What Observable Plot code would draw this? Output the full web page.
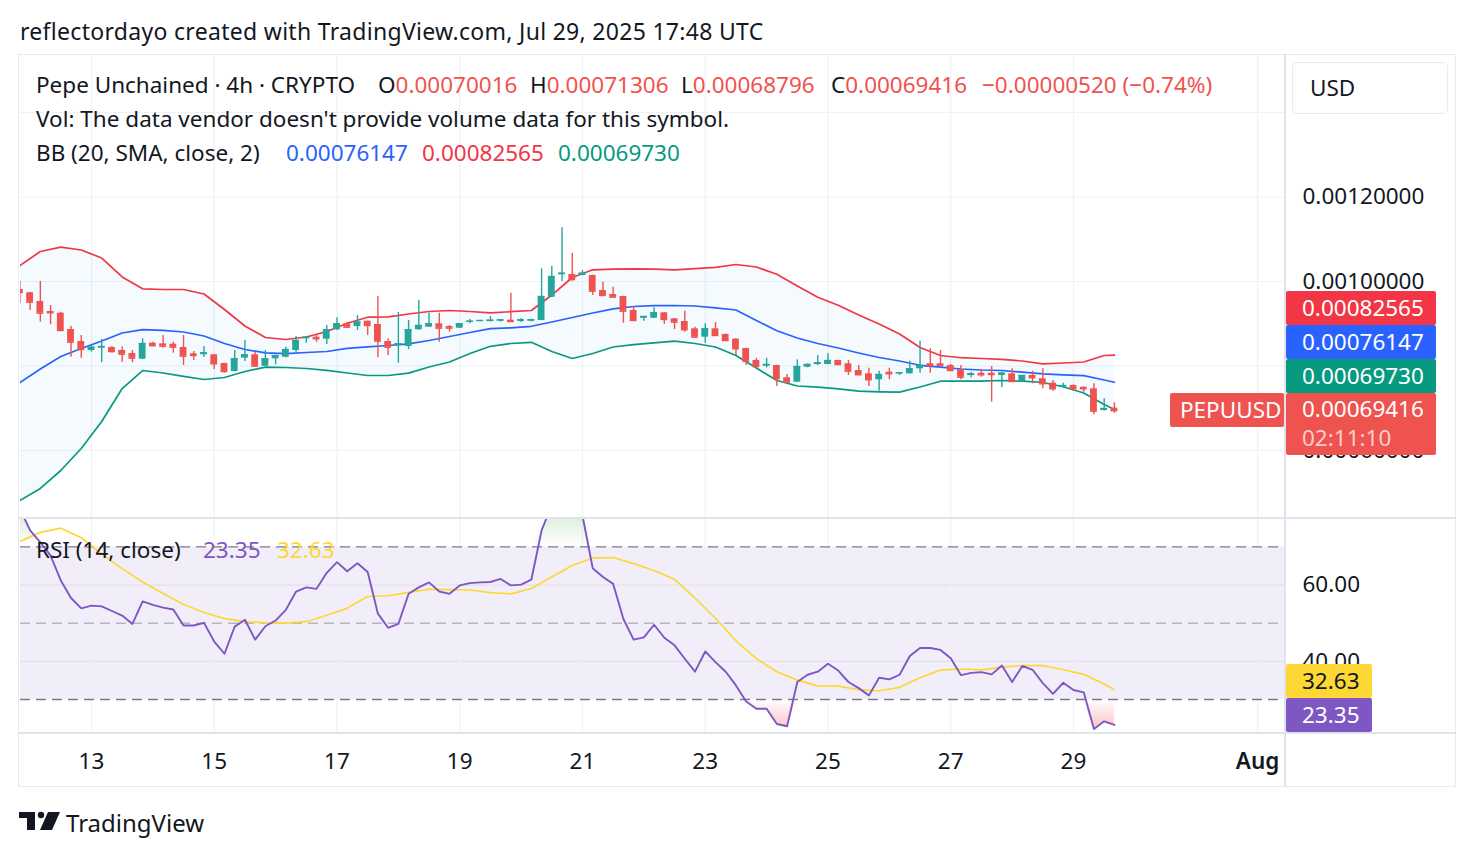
<!DOCTYPE html>
<html>
<head>
<meta charset="utf-8">
<script src="https://cdn.jsdelivr.net/npm/d3@7"></script>
<script src="https://cdn.jsdelivr.net/npm/@observablehq/plot@0.6"></script>
<style>
  html, body { margin: 0; padding: 0; background: #ffffff; }
  #page { position: relative; width: 1476px; height: 858px; overflow: hidden;
          font-family: "Noto Sans", sans-serif; color: #131722; }
  .t { position: absolute; white-space: pre; line-height: 34px; font-size: 22.5px; }
  .box { position: absolute; color: #ffffff; font-size: 22.5px; line-height: 34px;
         padding-left: 16px; box-sizing: border-box; border-radius: 2px; white-space: pre; }
  .rule { position: absolute; background: #e0e3eb; }
</style>
</head>
<body>
<div id="page"></div>
<script>
// ---------------- PEPUUSD, 4h bars ----------------
const symbolName = "Pepe Unchained · 4h · CRYPTO";
const tickerName = "PEPUUSD";
const firstBar = Date.UTC(2025, 6, 11, 20);   // open time of the first bar
const barMs = 4 * 3600 * 1000;

const opens = [
  0.0009811, 0.0009733, 0.0009527, 0.0009290, 0.0009250, 0.0008864, 0.0008580, 0.0008367, 0.0008421, 0.0008438,
  0.0008367, 0.0008296, 0.0008161, 0.0008540, 0.0008525, 0.0008516, 0.0008438, 0.0008289, 0.0008265, 0.0008265,
  0.0008059, 0.0007870, 0.0008185, 0.0008265, 0.0007995, 0.0008170, 0.0008208, 0.0008367, 0.0008644, 0.0008682,
  0.0008634, 0.0008857, 0.0008999, 0.0008935, 0.0009060, 0.0008982, 0.0008580, 0.0008478, 0.0008461, 0.0008857,
  0.0008918, 0.0008999, 0.0008935, 0.0008895, 0.0009030, 0.0009053, 0.0009053, 0.0009060, 0.0009084, 0.0009053,
  0.0009060, 0.0009077, 0.0009628, 0.0010159, 0.0010166, 0.0010142, 0.0010142, 0.0009787, 0.0009692, 0.0009645,
  0.0009314, 0.0009131, 0.0009131, 0.0009259, 0.0009117, 0.0009053, 0.0008880, 0.0008682, 0.0008880, 0.0008746,
  0.0008634, 0.0008414, 0.0008130, 0.0007995, 0.0008012, 0.0007721, 0.0007616, 0.0007971, 0.0008035, 0.0008035,
  0.0008130, 0.0008052, 0.0007893, 0.0007815, 0.0007673, 0.0007853, 0.0007815, 0.0007815, 0.0007934, 0.0008052,
  0.0008052, 0.0008012, 0.0007910, 0.0007775, 0.0007829, 0.0007829, 0.0007775, 0.0007815, 0.0007633, 0.0007775,
  0.0007697, 0.0007593, 0.0007498, 0.0007538, 0.0007498, 0.0007460, 0.0006947, 0.00070016
];
const highs = [
  0.0010000, 0.0009745, 0.0010000, 0.0009432, 0.0009273, 0.0008942, 0.0008722, 0.0008469, 0.0008627, 0.0008461,
  0.0008454, 0.0008367, 0.0008644, 0.0008563, 0.0008722, 0.0008563, 0.0008722, 0.0008343, 0.0008461, 0.0008270,
  0.0008065, 0.0008367, 0.0008603, 0.0008327, 0.0008367, 0.0008250, 0.0008445, 0.0008698, 0.0008698, 0.0008722,
  0.0008959, 0.0009141, 0.0009037, 0.0009195, 0.0009065, 0.0009645, 0.0008644, 0.0009266, 0.0009077, 0.0009550,
  0.0009250, 0.0009250, 0.0008959, 0.0009005, 0.0009101, 0.0009085, 0.0009172, 0.0009100, 0.0009723, 0.0009124,
  0.0009110, 0.0010301, 0.0010355, 0.0011271, 0.0010670, 0.0010260, 0.0010150, 0.0009983, 0.0009865, 0.0009650,
  0.0009408, 0.0009172, 0.0009377, 0.0009265, 0.0009125, 0.0009297, 0.0008918, 0.0008999, 0.0009030, 0.0008760,
  0.0008650, 0.0008420, 0.0008185, 0.0008185, 0.0008020, 0.0007799, 0.0008147, 0.0008052, 0.0008248, 0.0008289,
  0.0008135, 0.0008130, 0.0008012, 0.0007948, 0.0007877, 0.0007948, 0.0007845, 0.0008114, 0.0008587, 0.0008407,
  0.0008367, 0.0008035, 0.0008012, 0.0007853, 0.0007910, 0.0007988, 0.0007853, 0.0007934, 0.0007780, 0.0007877,
  0.0007934, 0.0007657, 0.0007593, 0.0007555, 0.0007505, 0.0007579, 0.0007224, 0.00071306
];
const lows = [
  0.0009479, 0.0009314, 0.0009037, 0.0008975, 0.0008817, 0.0008208, 0.0008185, 0.0008327, 0.0008076, 0.0008303,
  0.0008090, 0.0008076, 0.0008150, 0.0008469, 0.0008421, 0.0008303, 0.0008012, 0.0008130, 0.0008201, 0.0007917,
  0.0007829, 0.0007860, 0.0008106, 0.0007990, 0.0007990, 0.0008028, 0.0008194, 0.0008327, 0.0008540, 0.0008563,
  0.0008509, 0.0008840, 0.0008904, 0.0008840, 0.0008722, 0.0008194, 0.0008248, 0.0008066, 0.0008390, 0.0008850,
  0.0008910, 0.0008563, 0.0008800, 0.0008890, 0.0008999, 0.0009045, 0.0009037, 0.0009037, 0.0009050, 0.0009030,
  0.0009045, 0.0009070, 0.0009620, 0.0010000, 0.0010007, 0.0010135, 0.0009669, 0.0009645, 0.0009620, 0.0009013,
  0.0009060, 0.0009060, 0.0009125, 0.0008982, 0.0008864, 0.0008800, 0.0008675, 0.0008540, 0.0008698, 0.0008587,
  0.0008248, 0.0008012, 0.0007971, 0.0007957, 0.0007515, 0.0007593, 0.0007610, 0.0007957, 0.0008012, 0.0008030,
  0.0008012, 0.0007775, 0.0007775, 0.0007515, 0.0007403, 0.0007673, 0.0007775, 0.0007810, 0.0007829, 0.0007829,
  0.0007971, 0.0007877, 0.0007673, 0.0007721, 0.0007735, 0.0007143, 0.0007484, 0.0007616, 0.0007616, 0.0007579,
  0.0007460, 0.0007403, 0.0007475, 0.0007403, 0.0007380, 0.0006845, 0.0006930, 0.00068796
];
const closes = [
  0.0009740, 0.0009510, 0.0009250, 0.0009259, 0.0008840, 0.0008563, 0.0008390, 0.0008445, 0.0008461, 0.0008343,
  0.0008279, 0.0008185, 0.0008532, 0.0008478, 0.0008469, 0.0008445, 0.0008232, 0.0008248, 0.0008312, 0.0008052,
  0.0007870, 0.0008170, 0.0008265, 0.0007995, 0.0008170, 0.0008248, 0.0008390, 0.0008603, 0.0008682, 0.0008644,
  0.0008857, 0.0008999, 0.0008918, 0.0009037, 0.0008959, 0.0008587, 0.0008445, 0.0008525, 0.0008857, 0.0008959,
  0.0008999, 0.0008895, 0.0008895, 0.0008999, 0.0009060, 0.0009077, 0.0009084, 0.0009093, 0.0009053, 0.0009093,
  0.0009093, 0.0009645, 0.0010118, 0.0010196, 0.0010047, 0.0010196, 0.0009770, 0.0009669, 0.0009628, 0.0009297,
  0.0009077, 0.0009172, 0.0009259, 0.0009101, 0.0009037, 0.0008857, 0.0008682, 0.0008880, 0.0008722, 0.0008603,
  0.0008407, 0.0008114, 0.0007988, 0.0008035, 0.0007697, 0.0007616, 0.0007988, 0.0008035, 0.0008076, 0.0008130,
  0.0008035, 0.0007877, 0.0007792, 0.0007673, 0.0007799, 0.0007815, 0.0007839, 0.0007934, 0.0008012, 0.0008012,
  0.0008012, 0.0007893, 0.0007735, 0.0007815, 0.0007792, 0.0007799, 0.0007829, 0.0007633, 0.0007775, 0.0007721,
  0.0007579, 0.0007460, 0.0007538, 0.0007460, 0.0007460, 0.0006930, 0.00069936, 0.00069416
];

// Bollinger Bands (20, SMA, close, 2): read every second bar, plus the last bar
const bandBarIndex = d3.range(0, 107, 2).concat([107]);
const bbUpper = [
  0.0010379, 0.0010710, 0.0010812, 0.0010746, 0.0010556, 0.0010107, 0.0009827, 0.0009811, 0.0009811, 0.0009704,
  0.0009337, 0.0008947, 0.0008675, 0.0008627, 0.0008686, 0.0008817, 0.0009013, 0.0009155, 0.0009164, 0.0009231,
  0.0009290, 0.0009314, 0.0009290, 0.0009259, 0.0009285, 0.0009314, 0.0009680, 0.0010095, 0.0010277, 0.0010293,
  0.0010301, 0.0010291, 0.0010277, 0.0010303, 0.0010336, 0.0010402, 0.0010343, 0.0010170, 0.0009893, 0.0009628,
  0.0009437, 0.0009207, 0.0008994, 0.0008757, 0.0008438, 0.0008249, 0.0008196, 0.0008178, 0.0008159, 0.0008118,
  0.0008052, 0.0008071, 0.0008095, 0.0008249, 0.00082565
];
const bbBasis = [
  0.0007609, 0.0007929, 0.0008225, 0.0008414, 0.0008592, 0.0008781, 0.0008859, 0.0008845, 0.0008805, 0.0008710,
  0.0008533, 0.0008391, 0.0008312, 0.0008291, 0.0008320, 0.0008343, 0.0008419, 0.0008454, 0.0008485, 0.0008525,
  0.0008604, 0.0008698, 0.0008793, 0.0008883, 0.0008904, 0.0008940, 0.0009041, 0.0009148, 0.0009254, 0.0009354,
  0.0009408, 0.0009430, 0.0009432, 0.0009420, 0.0009378, 0.0009325, 0.0009077, 0.0008833, 0.0008663, 0.0008533,
  0.0008426, 0.0008308, 0.0008201, 0.0008118, 0.0008017, 0.0007972, 0.0007929, 0.0007905, 0.0007893, 0.0007853,
  0.0007815, 0.0007792, 0.0007773, 0.0007669, 0.00076147
];
const bbLower = [
  0.0004817, 0.0005101, 0.0005527, 0.0006047, 0.0006686, 0.0007467, 0.0007893, 0.0007834, 0.0007756, 0.0007680,
  0.0007728, 0.0007870, 0.0007972, 0.0007964, 0.0007941, 0.0007898, 0.0007834, 0.0007775, 0.0007775, 0.0007830,
  0.0007976, 0.0008095, 0.0008296, 0.0008466, 0.0008533, 0.0008561, 0.0008343, 0.0008178, 0.0008296, 0.0008450,
  0.0008504, 0.0008549, 0.0008587, 0.0008533, 0.0008450, 0.0008249, 0.0007953, 0.0007657, 0.0007527, 0.0007498,
  0.0007460, 0.0007404, 0.0007389, 0.0007380, 0.0007503, 0.0007640, 0.0007640, 0.0007640, 0.0007657, 0.0007640,
  0.0007609, 0.0007508, 0.0007361, 0.0007089, 0.00069730
];

// RSI (14, close), one value per bar
const rsi = [
  80.0, 74.3, 71.2, 67.7, 61.2, 56.6, 53.9, 54.6, 54.4, 53.2,
  52.0, 49.8, 55.7, 54.8, 54.1, 53.6, 49.4, 49.4, 50.1, 45.2,
  42.0, 49.1, 50.9, 45.7, 49.2, 50.7, 53.5, 58.3, 59.4, 59.0,
  63.2, 66.0, 63.6, 65.7, 63.4, 52.5, 48.8, 49.8, 57.7, 59.4,
  60.7, 58.3, 57.7, 59.9, 60.5, 60.7, 60.8, 61.6, 59.9, 60.1,
  61.4, 74.3, 81.0, 84.0, 80.5, 78.2, 64.4, 62.1, 60.3, 51.1,
  45.7, 46.3, 49.6, 46.2, 44.2, 40.7, 37.3, 42.6, 39.8, 37.3,
  33.7, 29.5, 27.6, 27.6, 23.6, 23.0, 34.6, 36.5, 37.3, 39.4,
  37.6, 34.6, 33.0, 31.1, 35.7, 35.3, 36.5, 41.4, 43.5, 43.5,
  43.0, 40.8, 36.4, 37.0, 37.2, 36.6, 38.9, 34.6, 38.8, 37.8,
  34.3, 31.5, 34.4, 32.5, 31.9, 22.3, 24.3, 23.35
];
// RSI-based moving average, read on the same bars as the bands
const rsiMa = [
  71.4, 73.8, 74.9, 72.4, 68.1, 64.3, 60.8, 57.8, 54.9, 52.8,
  51.2, 50.4, 50.1, 50.0, 50.4, 52.1, 53.9, 57.0, 57.2, 58.1,
  58.9, 58.8, 58.7, 58.0, 57.7, 59.1, 62.1, 65.1, 67.1, 67.2,
  65.6, 63.8, 61.5, 56.6, 51.3, 45.4, 40.7, 37.3, 35.1, 33.6,
  33.5, 32.6, 32.3, 33.2, 35.7, 37.7, 38.0, 37.8, 38.5, 38.9,
  38.9, 37.8, 36.6, 34.1, 32.63
];

// 0.0008 keeps its grid line; its label sits under the band labels on the price scale
const priceTicks = [0.0006, 0.0010, 0.0012];
const priceGrid = [0.0006, 0.0008, 0.0010, 0.0012, 0.0014];
const dayTicks = ["2025-07-13", "2025-07-15", "2025-07-17", "2025-07-19", "2025-07-21",
                  "2025-07-23", "2025-07-25", "2025-07-27", "2025-07-29", "2025-08-01"];
const rsiLevels = [70, 50, 30];
const rsiTicks = [40, 60];
const countdown = "02:11:10";

// ---------------- styling ----------------
const UP = "#26a69a", DOWN = "#ef5350";
const BB_UP = "#f23645", BB_MID = "#2962ff", BB_LOW = "#089981";
const RSI_C = "#7e57c2", MA_C = "#fdd835";
const GRID = "#eff1f5", INK = "#131722";
const FONT = '"Noto Sans", sans-serif';

const xDomain = [new Date("2025-07-11T20:14:24Z"), new Date("2025-08-01T10:54:00Z")];
const tickDates = dayTicks.map(d => new Date(d + "T00:00:00Z"));
const PANE_W = 1436, AXIS_W = 171;

const bars = opens.map((o, i) => ({
  time: new Date(firstBar + i * barMs),
  open: o, high: highs[i], low: lows[i], close: closes[i],
  color: closes[i] >= o ? UP : DOWN
}));
const half = 80 * 60 * 1000;
const bands = bandBarIndex.map((b, k) => ({
  time: new Date(firstBar + b * barMs), upper: bbUpper[k], basis: bbBasis[k], lower: bbLower[k], ma: rsiMa[k]
}));
const rsiRows = rsi.map((v, i) => ({time: new Date(firstBar + i * barMs), v}));

const page = document.getElementById("page");
function el(tag, cls, css, text) {
  const e = document.createElement(tag);
  if (cls) e.className = cls;
  Object.assign(e.style, css || {});
  if (text != null) e.textContent = text;
  page.appendChild(e);
  return e;
}
function span(parent, text, color) {
  const s = document.createElement("span");
  s.textContent = text;
  if (color) s.style.color = color;
  parent.appendChild(s);
  return s;
}
function place(svg, left, top) {
  svg.style.position = "absolute";
  svg.style.left = left + "px";
  svg.style.top = top + "px";
  page.appendChild(svg);
}

// ---------------- price pane ----------------
const main = Plot.plot({
  width: PANE_W, height: 463,
  marginLeft: 0, marginRight: AXIS_W, marginTop: 0, marginBottom: 0,
  style: {fontFamily: FONT, fontSize: "22.5px", color: INK, background: "transparent", overflow: "hidden"},
  x: {type: "utc", domain: xDomain, axis: null},
  y: {domain: [0.00043906, 0.00153491], axis: null},
  marks: [
    Plot.ruleY(priceGrid, {stroke: GRID, strokeWidth: 1.2}),
    Plot.ruleX(tickDates, {stroke: GRID, strokeWidth: 1.2}),
    Plot.areaY(bands, {x: "time", y1: "lower", y2: "upper", fill: "#2196f3", fillOpacity: 0.05}),
    Plot.lineY(bands, {x: "time", y: "upper", stroke: BB_UP, strokeWidth: 1.7}),
    Plot.lineY(bands, {x: "time", y: "basis", stroke: BB_MID, strokeWidth: 1.7}),
    Plot.lineY(bands, {x: "time", y: "lower", stroke: BB_LOW, strokeWidth: 1.7}),
    Plot.ruleX(bars, {x: "time", y1: "low", y2: "high", stroke: "color", strokeWidth: 1.4}),
    Plot.rect(bars, {
      x1: d => new Date(+d.time - half), x2: d => new Date(+d.time + half),
      y1: "open", y2: "close", fill: "color"
    }),
    Plot.ruleY(bars, {
      x1: d => new Date(+d.time - half), x2: d => new Date(+d.time + half),
      y: "close", stroke: "color", strokeWidth: 1.4
    }),
    Plot.axisY(priceTicks, {anchor: "right", tickSize: 0, tickPadding: 17, tickFormat: d3.format(".8f"),
      label: null, fontSize: 22.5, fill: INK})
  ]
});
place(main, 20, 55);

// ---------------- RSI pane + time axis ----------------
const rsiPlot = Plot.plot({
  width: PANE_W, height: 270,
  marginLeft: 0, marginRight: AXIS_W, marginTop: 0, marginBottom: 55,
  style: {fontFamily: FONT, fontSize: "22.5px", color: INK, background: "transparent", overflow: "hidden"},
  x: {type: "utc", domain: xDomain, axis: null},
  y: {domain: [21.11, 77.43], axis: null},
  marks: [
    () => {
      const defs = d3.create("svg:defs");
      const ob = defs.append("linearGradient").attr("id", "obFill").attr("x1", 0).attr("y1", 0).attr("x2", 0).attr("y2", 1);
      ob.append("stop").attr("offset", "0%").attr("stop-color", "#4caf50").attr("stop-opacity", 0.35);
      ob.append("stop").attr("offset", "100%").attr("stop-color", "#4caf50").attr("stop-opacity", 0);
      const os = defs.append("linearGradient").attr("id", "osFill").attr("x1", 0).attr("y1", 0).attr("x2", 0).attr("y2", 1);
      os.append("stop").attr("offset", "0%").attr("stop-color", "#f23645").attr("stop-opacity", 0);
      os.append("stop").attr("offset", "100%").attr("stop-color", "#f23645").attr("stop-opacity", 0.3);
      return defs.node();
    },
    Plot.rect([rsiLevels], {y1: rsiLevels[2], y2: rsiLevels[0], fill: RSI_C, fillOpacity: 0.1}),
    Plot.ruleY(rsiTicks, {stroke: "#e3e0ea", strokeWidth: 1.2}),
    Plot.ruleX(tickDates, {stroke: GRID, strokeWidth: 1.2}),
    Plot.ruleY([rsiLevels[0], rsiLevels[2]], {stroke: "#787b86", strokeWidth: 1.4, strokeDasharray: "10,6"}),
    Plot.ruleY([rsiLevels[1]], {stroke: "#787b86", strokeOpacity: 0.5, strokeWidth: 1.4, strokeDasharray: "10,6"}),
    Plot.areaY(rsiRows, {x: "time", y1: rsiLevels[0], y2: d => Math.max(d.v, rsiLevels[0]), fill: "url(#obFill)"}),
    Plot.areaY(rsiRows, {x: "time", y1: d => Math.min(d.v, rsiLevels[2]), y2: rsiLevels[2], fill: "url(#osFill)"}),
    Plot.lineY(bands, {x: "time", y: "ma", stroke: MA_C, strokeWidth: 1.7}),
    Plot.lineY(rsiRows, {x: "time", y: "v", stroke: RSI_C, strokeWidth: 1.9}),
    Plot.axisY(rsiTicks, {anchor: "right", tickSize: 0, tickPadding: 17, tickFormat: d3.format(".2f"),
      label: null, fontSize: 22.5, fill: INK}),
    Plot.axisX(tickDates, {anchor: "bottom", tickSize: 0, tickPadding: 20, label: null, fontSize: 22.5, fill: INK,
      tickFormat: d => d.getUTCMonth() === 7 ? "Aug" : String(d.getUTCDate())})
  ]
});
place(rsiPlot, 20, 518);
d3.select(rsiPlot).selectAll("text").filter(function () { return this.textContent === "Aug"; })
  .attr("font-weight", 600);

// ---------------- frame ----------------
el("div", null, {position: "absolute", left: "18px", top: "54px", width: "1438px", height: "733px",
  border: "1px solid #e9ebf0", boxSizing: "border-box"});
el("div", "rule", {left: "18px", top: "517px", width: "1438px", height: "2px"});
el("div", "rule", {left: "18px", top: "732px", width: "1438px", height: "2px"});
el("div", "rule", {left: "1284px", top: "54px", width: "2px", height: "733px"});

// ---------------- texts ----------------
el("div", "t", {left: "20px", top: "14px", fontSize: "23px", letterSpacing: "0.3px"},
  "reflectordayo created with TradingView.com, Jul 29, 2025 17:48 UTC");

const last = bars[bars.length - 1];
const prevClose = closes[closes.length - 2];
const fmt8 = d3.format(".8f");
const chg = last.close - prevClose;
const minus = s => s.replace("-", "\u2212");
const lastColor = last.color;

el("div", "t", {left: "36px", top: "68px"}, symbolName);
[["O", last.open, 378], ["H", last.high, 530], ["L", last.low, 681], ["C", last.close, 831]]
  .forEach(([k, v, x]) => {
    const d = el("div", "t", {left: x + "px", top: "68px"});
    span(d, k, INK);
    span(d, fmt8(v), lastColor);
  });
el("div", "t", {left: "982px", top: "68px", color: lastColor},
  minus(fmt8(chg)) + " (" + minus(d3.format(".2f")(chg / prevClose * 100)) + "%)");
el("div", "t", {left: "36px", top: "102px"}, "Vol: The data vendor doesn't provide volume data for this symbol.");
const bbLast = bands[bands.length - 1];
[["BB (20, SMA, close, 2)", INK, 36], [fmt8(bbLast.basis), BB_MID, 286],
 [fmt8(bbLast.upper), BB_UP, 422], [fmt8(bbLast.lower), BB_LOW, 558]]
  .forEach(([s, c, x]) => el("div", "t", {left: x + "px", top: "136px", color: c}, s));

const rsiLast = rsi[rsi.length - 1], maLast = rsiMa[rsiMa.length - 1];
[["RSI (14, close)", INK, 36], [d3.format(".2f")(rsiLast), RSI_C, 203], [d3.format(".2f")(maLast), MA_C, 277]]
  .forEach(([s, c, x]) => el("div", "t", {left: x + "px", top: "533px", color: c}, s));

// currency button
el("div", null, {position: "absolute", left: "1292px", top: "62px", width: "156px", height: "52px",
  border: "1px solid #e9ebf0", borderRadius: "5px", boxSizing: "border-box", background: "#fff"});
el("div", "t", {left: "1310px", top: "71px"}, "USD");

// ---------------- price-scale labels (stacked upward from the last close) ----------------
const yMain = main.scale("y");
const BOX_H = 34;
const closeTop = Math.round(yMain.apply(last.close) + 55 - 17);
const stacked = [
  {v: bbLast.lower, c: BB_LOW},
  {v: bbLast.basis, c: BB_MID},
  {v: bbLast.upper, c: BB_UP}
];
let ceiling = closeTop;
stacked.forEach(s => {
  const top = Math.min(Math.round(yMain.apply(s.v) + 55 - 17), ceiling - BOX_H);
  el("div", "box", {left: "1286px", top: top + "px", width: "150px", height: BOX_H + "px", background: s.c}, fmt8(s.v));
  ceiling = top;
});
const cb = el("div", "box", {left: "1286px", top: closeTop + "px", width: "150px", height: (BOX_H * 2 - 6) + "px",
  background: lastColor});
const l1 = document.createElement("div");
l1.textContent = fmt8(last.close);
Object.assign(l1.style, {height: "31px", lineHeight: "31px"});
const l2 = document.createElement("div");
l2.textContent = countdown;
Object.assign(l2.style, {height: "27px", lineHeight: "27px", color: "rgba(255,255,255,0.72)"});
cb.appendChild(l1); cb.appendChild(l2);
el("div", "box", {left: "1170px", top: closeTop + "px", width: "114px", height: BOX_H + "px", background: lastColor,
  paddingLeft: "10px"}, tickerName);

// RSI scale labels: RSI kept inside the pane, its average stacked above
const yRsi = rsiPlot.scale("y");
const paneBottom = 732;
const rsiTop = Math.min(Math.round(yRsi.apply(rsiLast) + 518 - 17), paneBottom - BOX_H);
const maTop = Math.min(Math.round(yRsi.apply(maLast) + 518 - 17), rsiTop - BOX_H);
el("div", "box", {left: "1286px", top: maTop + "px", width: "86px", height: BOX_H + "px", background: MA_C, color: INK},
  d3.format(".2f")(maLast));
el("div", "box", {left: "1286px", top: rsiTop + "px", width: "86px", height: BOX_H + "px", background: RSI_C},
  d3.format(".2f")(rsiLast));

// ---------------- footer logo ----------------
const logo = d3.create("svg").attr("width", 44).attr("height", 22)
  .style("position", "absolute").style("left", "19px").style("top", "811px");
logo.append("rect").attr("x", 0).attr("y", 1).attr("width", 16).attr("height", 6).attr("fill", INK);
logo.append("rect").attr("x", 8).attr("y", 1).attr("width", 8).attr("height", 18).attr("fill", INK);
logo.append("circle").attr("cx", 22).attr("cy", 4).attr("r", 3.2).attr("fill", INK);
logo.append("polygon").attr("points", "29,1 41,1 33,19 21,19").attr("fill", INK);
page.appendChild(logo.node());
el("div", "t", {left: "66px", top: "806px", fontSize: "24px"}, "TradingView");
</script>
</body>
</html>
